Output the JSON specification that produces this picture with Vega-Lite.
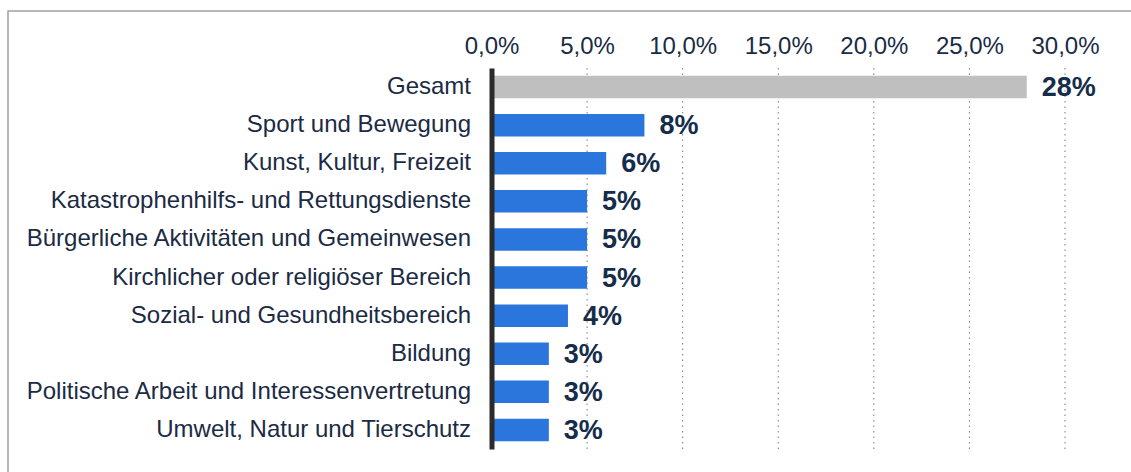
{
  "$schema": "https://vega.github.io/schema/vega-lite/v6.json",
  "width": 1128,
  "height": 466,
  "autosize": {"type": "none"},
  "padding": {"left": 8, "top": 11, "right": -5, "bottom": -5},
  "background": "#ffffff",
  "config": {
    "view": {"stroke": "#a0a0a0", "strokeWidth": 1.5},
    "font": "Liberation Sans"
  },
  "datasets": {
    "bereiche": [
      {"bereich": "Gesamt", "anteil": 0.28, "gruppe": "Gesamt"},
      {"bereich": "Sport und Bewegung", "anteil": 0.08, "gruppe": "Bereich"},
      {"bereich": "Kunst, Kultur, Freizeit", "anteil": 0.06, "gruppe": "Bereich"},
      {"bereich": "Katastrophenhilfs- und Rettungsdienste", "anteil": 0.05, "gruppe": "Bereich"},
      {"bereich": "Bürgerliche Aktivitäten und Gemeinwesen", "anteil": 0.05, "gruppe": "Bereich"},
      {"bereich": "Kirchlicher oder religiöser Bereich", "anteil": 0.05, "gruppe": "Bereich"},
      {"bereich": "Sozial- und Gesundheitsbereich", "anteil": 0.04, "gruppe": "Bereich"},
      {"bereich": "Bildung", "anteil": 0.03, "gruppe": "Bereich"},
      {"bereich": "Politische Arbeit und Interessenvertretung", "anteil": 0.03, "gruppe": "Bereich"},
      {"bereich": "Umwelt, Natur und Tierschutz", "anteil": 0.03, "gruppe": "Bereich"}
    ],
    "gitter": [
      {"anteil": 0.05}, {"anteil": 0.1}, {"anteil": 0.15}, {"anteil": 0.2}, {"anteil": 0.25}, {"anteil": 0.3}
    ]
  },
  "resolve": {"scale": {"y": "independent"}},
  "layer": [
    {
      "data": {"name": "gitter"},
      "mark": {"type": "rule", "color": "#7a7a7a", "strokeWidth": 1, "strokeDash": [1.5, 4]},
      "encoding": {
        "x": {
          "field": "anteil",
          "type": "quantitative",
          "scale": {"domain": [0, 0.3], "range": [483.5, 1057], "nice": false, "zero": true},
          "axis": {
            "orient": "top",
            "offset": -57,
            "title": null,
            "values": [0, 0.05, 0.1, 0.15, 0.2, 0.25, 0.3],
            "labelExpr": "replace(format(datum.value, '.1%'), '.', ',')",
            "domain": false,
            "ticks": false,
            "grid": false,
            "labelOverlap": false,
            "labelFlush": false,
            "labelBound": false,
            "labelPadding": 10,
            "labelFontSize": 24,
            "labelColor": "#1b2b44",
            "labelFont": "Liberation Sans"
          }
        },
        "y": {"datum": 0, "type": "quantitative", "scale": {"domain": [0, 1], "range": [57, 438], "nice": false, "zero": false}, "axis": null},
        "y2": {"datum": 1}
      }
    },
    {
      "data": {"name": "bereiche"},
      "encoding": {
        "y": {
          "field": "bereich",
          "type": "nominal",
          "sort": null,
          "scale": {"range": [57, 438], "paddingInner": 0.41, "paddingOuter": 0.205},
          "axis": {
            "orient": "left",
            "offset": -483.5,
            "title": null,
            "ticks": false,
            "grid": false,
            "domainColor": "#2b2b2b",
            "domainWidth": 5,
            "labelPadding": 21,
            "labelFontSize": 24,
            "labelColor": "#1b2b44",
            "labelFont": "Liberation Sans",
            "labelLimit": 700,
            "zindex": 1
          }
        },
        "x": {"field": "anteil", "type": "quantitative"}
      },
      "layer": [
        {
          "mark": {"type": "bar"},
          "encoding": {
            "color": {
              "field": "gruppe",
              "type": "nominal",
              "scale": {"domain": ["Gesamt", "Bereich"], "range": ["#bfbfbf", "#2a76dd"]},
              "legend": null
            }
          }
        },
        {
          "mark": {
            "type": "text",
            "align": "left",
            "baseline": "middle",
            "dx": 15,
            "dy": 1,
            "fontSize": 27,
            "fontWeight": "bold",
            "font": "Liberation Sans",
            "color": "#152d4a"
          },
          "encoding": {
            "text": {"field": "anteil", "type": "quantitative", "format": ".0%"}
          }
        }
      ]
    }
  ]
}
